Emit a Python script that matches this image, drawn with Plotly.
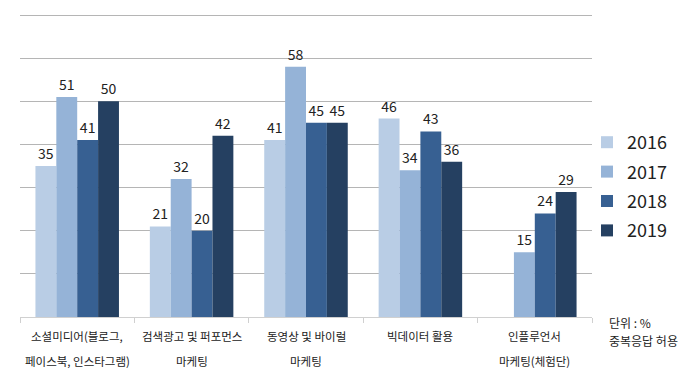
import plotly.graph_objects as go

categories = ["소셜미디어", "검색광고", "동영상", "빅데이터", "인플루언서"]
label_line1 = ["소셜미디어(블로그,", "검색광고 및 퍼포먼스", "동영상 및 바이럴", "빅데이터 활용", "인플루언서"]
label_line2 = ["페이스북, 인스타그램)", "마케팅", "마케팅", "", "마케팅(체험단)"]
years = ["2016", "2017", "2018", "2019"]
v2016 = [35, 21, 41, 46, None]
v2017 = [51, 32, 58, 34, 15]
v2018 = [41, 20, 45, 43, 24]
v2019 = [50, 42, 45, 36, 29]
colors = ["#b9cde5", "#95b3d7", "#376092", "#254061"]
note_lines = ["단위 : %", "중복응답 허용"]

FONT = "Noto Sans CJK KR"
OFF = 8  # browser body margin
W, H = 700 - OFF, 385 - OFF
# desired absolute pixel box of plot area
PX0, PX1, PY0, PY1 = 20, 592, 13, 317
YMAX = 70 * (PY1 - PY0) / (PY1 - 15)
L, R, T, B = PX0 - OFF, 700 - PX1, PY0 - OFF, 385 - PY1
pw, ph = W - L - R, H - T - B

def px(x):
    return (x - PX0) / pw

def py(y):
    return (PY1 - y) / ph

fig = go.Figure()
for i, (yr, vals) in enumerate(zip(years, [v2016, v2017, v2018, v2019])):
    fig.add_trace(go.Bar(
        x=categories, y=vals, name=yr, marker_color=colors[i],
        marker_line_width=0,
        text=[("" if v is None else str(v)) for v in vals],
        textposition="outside", cliponaxis=False,
        textfont=dict(size=14, color="#222222", family=FONT),
        legendgroup=yr,
    ))

for c, l1, l2 in zip(categories, label_line1, label_line2):
    fig.add_annotation(x=c, y=0, xref="x", yref="y", text=l1, showarrow=False,
                       yanchor="middle", yshift=-19, font=dict(size=11.5, color="#222222", family=FONT))
    if l2:
        fig.add_annotation(x=c, y=0, xref="x", yref="y", text=l2, showarrow=False,
                           yanchor="middle", yshift=-44, font=dict(size=11.5, color="#222222", family=FONT))

for j, t in enumerate(note_lines):
    fig.add_annotation(x=px(607), y=py(322 + j * 18), xref="paper", yref="paper", text=t,
                       showarrow=False, xanchor="left", yanchor="middle", align="left",
                       font=dict(size=12, color="#222222", family=FONT))

fig.update_layout(
    width=W, height=H, margin=dict(l=L, r=R, t=T, b=B),
    paper_bgcolor="white", plot_bgcolor="white",
    barmode="group", bargap=0.27, bargroupgap=0,
    font=dict(family=FONT, color="#222222"),
    showlegend=True,
    legend=dict(x=px(587), y=py(124), xanchor="left", yanchor="top",
                font=dict(size=18, family=FONT, color="#222222"),
                tracegroupgap=3, itemwidth=30, bgcolor="rgba(0,0,0,0)"),
    xaxis=dict(showticklabels=False, showline=True, linecolor="#d0d0d0", linewidth=1,
               ticks="outside", tickson="boundaries", ticklen=5, tickcolor="#d0d0d0",
               showgrid=False, range=[-0.5, 4.5]),
    yaxis=dict(range=[0, YMAX], tick0=0, dtick=10, showgrid=True, gridcolor="#b5b5b5", gridwidth=1,
               showticklabels=False, zeroline=False, showline=False),
    hovermode=False,
)
fig.write_html("out.html")
